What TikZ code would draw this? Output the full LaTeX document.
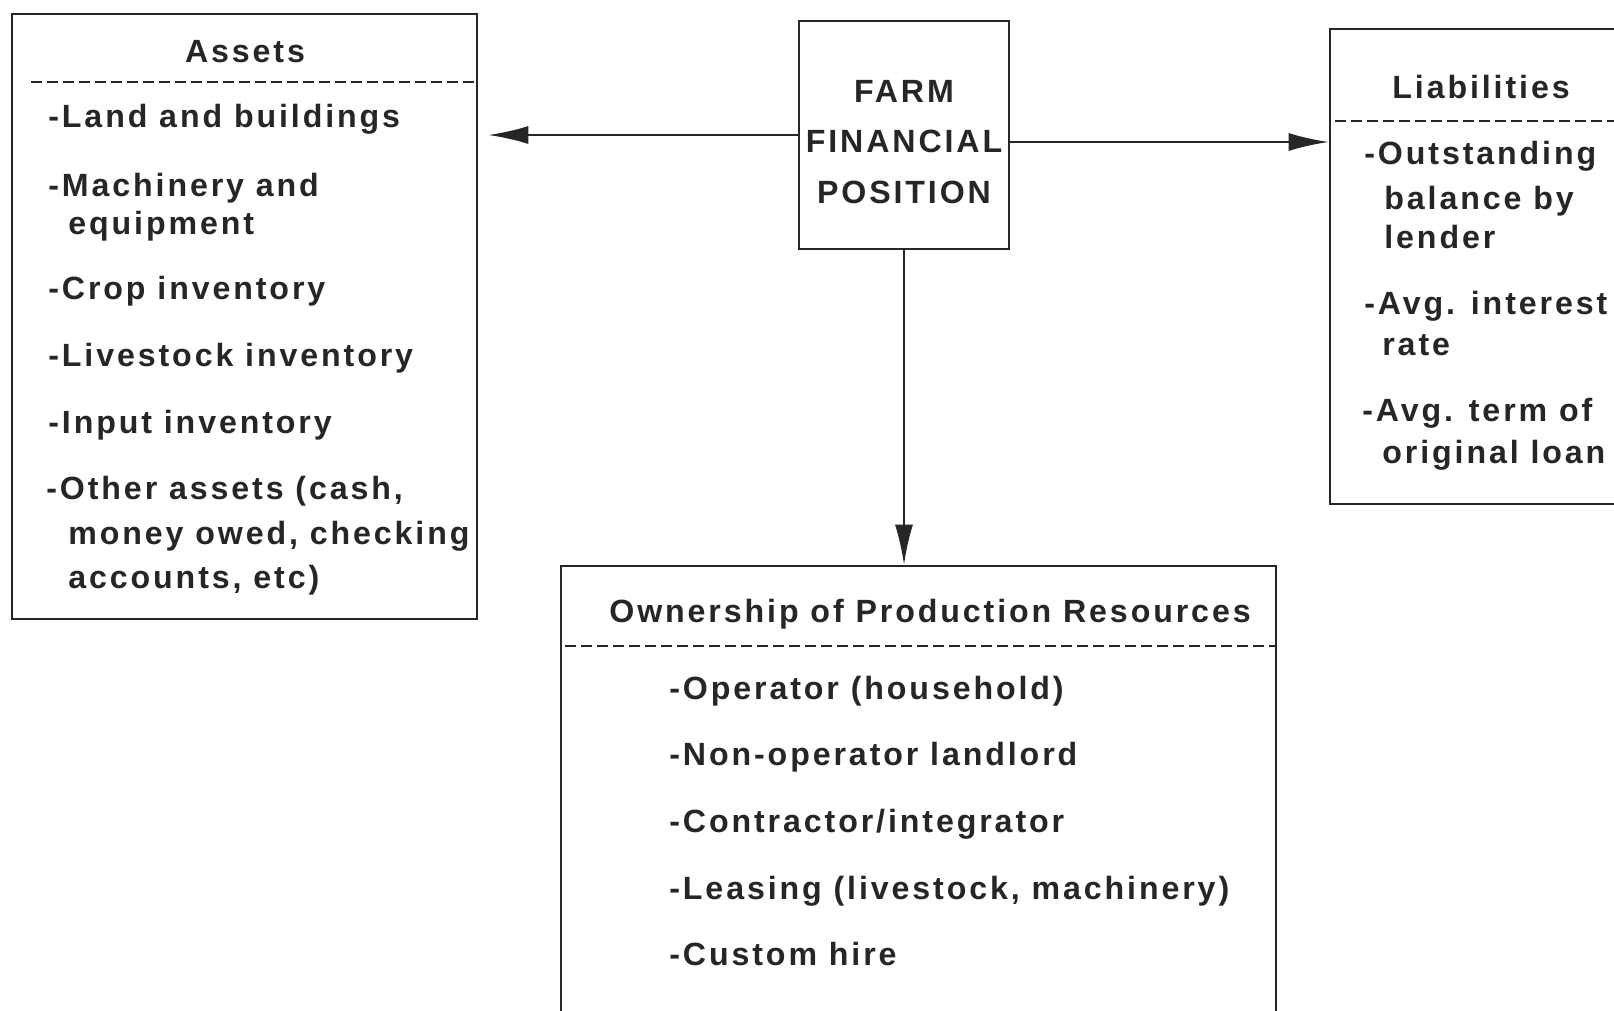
\documentclass[tikz,border=0pt]{standalone}
\usepackage{fontspec}
\newfontfamily\chartfont{Liberation Sans}[LetterSpace=9]
\usetikzlibrary{arrows.meta}
\tikzset{
    box/.style = {rectangle, draw=black!85, line width=1.6pt, inner sep=0pt},
    txt/.style = {anchor=base west, inner sep=0pt, text=black!85,
        font=\chartfont\bfseries\fontsize{18.3}{24}\selectfont},
    ttl/.style = {txt, anchor=base},
    sepline/.style = {draw=black!85, line width=1.1pt, dash pattern=on 0.22cm off 0.1cm},
    conn/.style = {draw=black!85, line width=1.1pt, -{Latex[length=0.8cm,width=0.36cm]}},
}
\begin{document}
\begin{tikzpicture}[x=0.02cm, y=-0.02cm]
\path[use as bounding box, clip] (0,0) rectangle (1614,1011);
% boxes
\node[box, minimum width=9.3cm, minimum height=12.1cm] at (244.5,316.5) (assets) {};
\node[box, minimum width=4.2cm, minimum height=4.56cm] at (904,135) (ffp) {};
\node[box, minimum width=7.4cm, minimum height=9.5cm] at (1515,266.5) (liab) {};
\node[box, minimum width=14.3cm, minimum height=10.68cm] at (918.5,833) (own) {};
\node[txt, anchor=center, align=center,
      font=\chartfont\bfseries\fontsize{18.3}{28.6}\selectfont] at (904,142) (ffptxt)
      {FARM\\FINANCIAL\\POSITION};
%
% assets
\node[ttl] at (245,62) (assetsttl) {Assets};
\coordinate (adash) at (31,82);
\draw[sepline] (adash) -- (adash -| assets.east);
\node[txt] at (48,127) (land) {-Land and buildings};
\node[txt] at (48,196) (mach) {-Machinery and};
\node[txt] at (68,234) (equip) {equipment};
\node[txt] at (48,299) (crop) {-Crop inventory};
\node[txt] at (48,366) (live) {-Livestock inventory};
\node[txt] at (48,433) (input) {-Input inventory};
\node[txt] at (46,499) (other) {-Other assets (cash,};
\node[txt] at (68,544) (money) {money owed, checking};
\node[txt] at (68,588) (accts) {accounts, etc)};
%
% liabilities
\node[ttl] at (1481,98) (liabttl) {Liabilities};
\coordinate (ldash) at (1335,121);
\draw[sepline] (ldash) -- (1614,121);
\node[txt] at (1364,164) (outst) {-Outstanding};
\node[txt] at (1384,209) (bal) {balance by};
\node[txt] at (1384,248) (lender) {lender};
\node[txt] at (1364,314) (avgint) {-Avg. interest};
\node[txt] at (1382,355) (rate) {rate};
\node[txt] at (1362,421) (avgterm) {-Avg. term of};
\node[txt] at (1382,463) (orig) {original loan};
%
% ownership
\node[ttl] at (930,622) (ownttl) {Ownership of Production Resources};
\coordinate (odash) at (565,646);
\draw[sepline] (odash) -- (odash -| own.east);
\node[txt] at (669,699) (oper) {-Operator (household)};
\node[txt] at (669,765) (nonop) {-Non-operator landlord};
\node[txt] at (669,832) (contr) {-Contractor/integrator};
\node[txt] at (669,899) (leas) {-Leasing (livestock, machinery)};
\node[txt] at (669,965) (cust) {-Custom hire};
%
% arrows
\coordinate (rt) at ([yshift=-0.14cm]ffp.east);
\draw[conn, shorten >=0.2cm] (ffp.west) -- (ffp.west -| assets.east);
\draw[conn] (rt) -- (rt -| liab.west);
\draw[conn] (ffp.south) -- (ffp.south |- own.north);
\end{tikzpicture}
\end{document}
